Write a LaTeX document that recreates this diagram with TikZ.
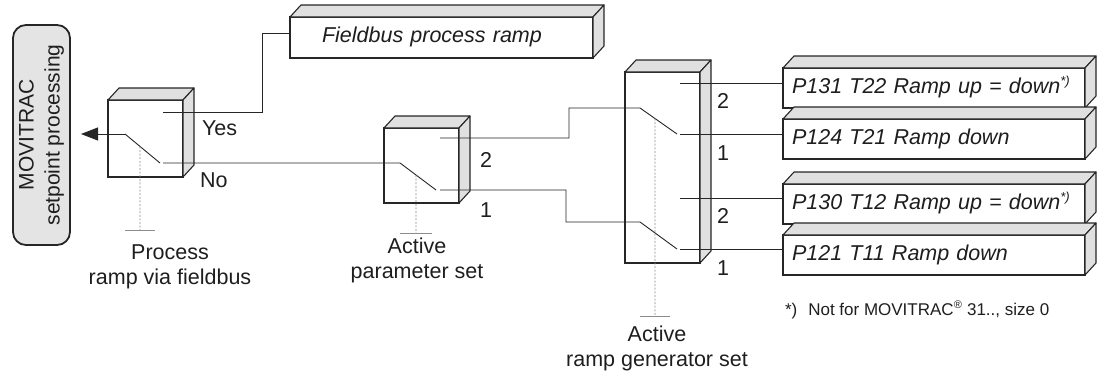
\documentclass[tikz,border=0pt]{standalone}
\usepackage{fontspec}
\setmainfont{Liberation Sans}
\usetikzlibrary{arrows.meta,calc}
\definecolor{facegray}{HTML}{E0E0E0}
\definecolor{movgray}{HTML}{E4E4E4}
\definecolor{edgec}{HTML}{262626}
\definecolor{dashc}{HTML}{8C8C8C}
\definecolor{txtc}{HTML}{1E1E1E}
\tikzset{
  box3d/.style={draw=edgec, line width=1.1pt, fill=white, inner sep=0pt, outer sep=0pt, anchor=north west},
  face/.style={draw=edgec, line width=1.1pt, fill=facegray, line join=round},
  wire/.style={draw=edgec, line width=0.9pt},
  ctrl/.style={draw=dashc, line width=0.9pt, dash pattern=on 2pt off 1.6pt},
  ctrlbar/.style={draw=dashc, line width=1pt},
  lbl/.style={font=\fontsize{21.5}{25}\selectfont, text=txtc, inner sep=0pt, outer sep=0pt},
  txtbox/.style={box3d, font=\fontsize{21.5}{25}\selectfont\itshape, text=txtc, align=left,
    text height=15.5pt, text depth=5.5pt},
  rbox/.style={txtbox, text width=302pt, minimum height=40pt}
}
\newcommand{\cubefaces}[1]{%
  \path[face] (#1.north west) -- ($(#1.north west)+(11,-12)$) -- ($(#1.north east)+(11,-12)$) -- (#1.north east) -- cycle;
  \path[face] (#1.north east) -- ($(#1.north east)+(11,-12)$) -- ($(#1.south east)+(11,-12)$) -- (#1.south east) -- cycle;
}
\newcommand{\stardn}{\raisebox{8pt}{\fontsize{13}{13}\selectfont *)}}
\begin{document}
\begin{tikzpicture}[x=1pt,y=-1pt]
\useasboundingbox (0,0) rectangle (1099,380);

% MOVITRAC box
\node[draw=edgec, line width=1.8pt, fill=movgray, rounded corners=13pt,
  minimum width=220pt, minimum height=57pt, rotate=90, align=center, inner sep=0pt,
  font=\fontsize{21}{26}\selectfont, text=txtc] (mov) at (41.5,135) {MOVITRAC\\setpoint processing};

% switch boxes
\node[box3d, minimum width=75pt, minimum height=77pt] (s1) at (108,100) {};
\node[box3d, minimum width=75pt, minimum height=75pt] (s2) at (384,128) {};
\node[box3d, minimum width=75pt, minimum height=191pt] (s3) at (625,72) {};
\cubefaces{s1}
\cubefaces{s2}
\cubefaces{s3}

% text boxes
\node[txtbox, text width=303pt, minimum height=41pt] (fb) at (290,17) {\hspace*{32pt}Fieldbus process ramp};
\node[rbox] (r1) at (783,68) {\hspace*{9pt}P131 T22 Ramp up = down\stardn};
\node[rbox] (r2) at (783,119) {\hspace*{9pt}P124 T21 Ramp down};
\node[rbox] (r3) at (783,184) {\hspace*{9pt}P130 T12 Ramp up = down\stardn};
\node[rbox] (r4) at (783,235) {\hspace*{9pt}P121 T11 Ramp down};
\cubefaces{fb}
\cubefaces{r1}
\cubefaces{r2}
\cubefaces{r3}
\cubefaces{r4}

% switch points
\coordinate (s1p) at (125,134);
\coordinate (s1b) at (160,163);
\coordinate (s1y) at (163,112);
\coordinate (s1n) at (163,163);
\coordinate (arrowend) at (81,134);
\coordinate (s2p) at (400,163);
\coordinate (s2b) at (436,190);
\coordinate (s2c2) at (440,138);
\coordinate (s2c1) at (440,190);
\coordinate (s3pa) at (640,108);
\coordinate (s3ba) at (677,134);
\coordinate (s3pb) at (640,222);
\coordinate (s3bb) at (677,249);
\coordinate (s3c1) at (680,83);
\coordinate (s3c2) at (680,134);
\coordinate (s3c3) at (680,198);
\coordinate (s3c4) at (680,249);
\coordinate (s1bar) at (140,230);
\coordinate (s2bar) at (416,233);
\coordinate (s3bar) at (655,316);

% wires
\draw[wire, -{Triangle[length=17pt,width=13pt]}] (s1p) -- (arrowend);
\draw[wire] (s1p) -- (s1b);
\draw[wire] (s1y) -| ($(fb.north west)+(-28,16)$) -- ($(fb.north west)+(0,16)$);
\draw[wire] (s1n) -- (s2p) -- (s2b);
\draw[wire] (s2c2) -| ($(s3pa)+(-71,0)$) -- (s3pa) -- (s3ba);
\draw[wire] (s2c1) -| ($(s3pb)+(-74,0)$) -- (s3pb) -- (s3bb);
\draw[wire] (s3c1) -- (s3c1 -| r1.west);
\draw[wire] (s3c2) -- (s3c2 -| r2.west);
\draw[wire] (s3c3) -- (s3c3 -| r3.west);
\draw[wire] (s3c4) -- (s3c4 -| r4.west);

% control lines
\draw[ctrl] ($(s1p)!0.4286!(s1b)$) -- (s1bar);
\draw[ctrlbar] ($(s1bar)+(-15,0)$) -- ($(s1bar)+(15,0)$);
\draw[ctrl] ($(s2p)!0.4444!(s2b)$) -- (s2bar);
\draw[ctrlbar] ($(s2bar)+(-16,0)$) -- ($(s2bar)+(16,0)$);
\draw[ctrl] ($(s3pa)!0.4054!(s3ba)$) -- (s3bar);
\draw[ctrlbar] ($(s3bar)+(-15,0)$) -- ($(s3bar)+(15,0)$);

% labels
\node[lbl, anchor=base west] (yes) at (202,135) {Yes};
\node[lbl, anchor=base west] (no) at (200,187) {No};
\node[lbl, anchor=base west] (s2l2) at (480,167) {2};
\node[lbl, anchor=base west] (s2l1) at (480,217) {1};
\node[lbl, anchor=base west] (s3l1) at (717,108) {2};
\node[lbl, anchor=base west] (s3l2) at (717,160) {1};
\node[lbl, anchor=base west] (s3l3) at (717,223) {2};
\node[lbl, anchor=base west] (s3l4) at (717,275) {1};

\node[lbl, align=center, anchor=north] (l1) at (170,244.5) {Process\\ramp via fieldbus};
\node[lbl, align=center, anchor=north] (l2) at (417,237.5) {Active\\parameter set};
\node[lbl, align=center, anchor=north] (l3) at (657,325.5) {Active\\ramp generator set};

\node[lbl, anchor=base west, font=\fontsize{17}{20}\selectfont] (fn) at (785,315)
  {*)\hspace{11pt}Not for MOVITRAC\textsuperscript{\fontsize{11}{11}\selectfont ®} 31.., size 0};
\end{tikzpicture}
\end{document}
